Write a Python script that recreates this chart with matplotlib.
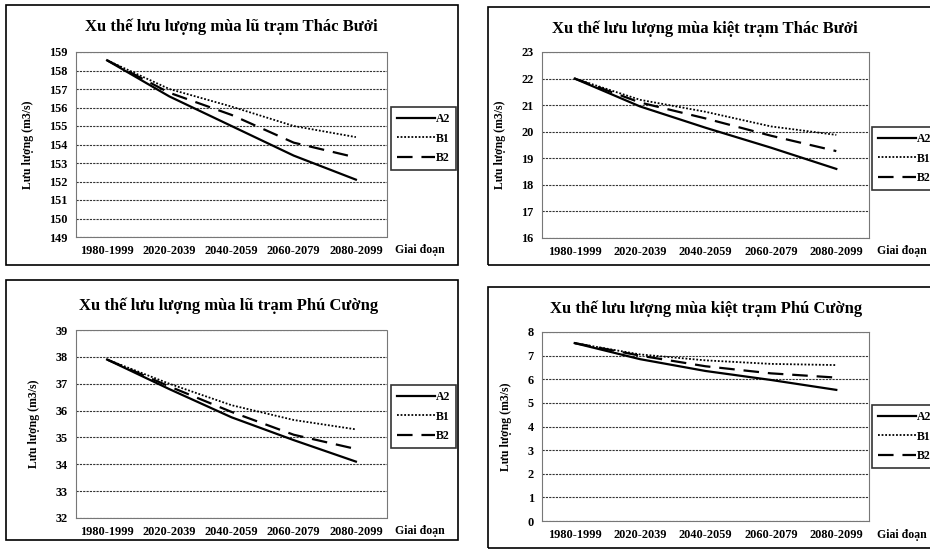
import matplotlib
matplotlib.use("Agg")
import matplotlib.pyplot as plt
from matplotlib.patches import Rectangle

plt.rcParams['font.family'] = ['Liberation Serif', 'DejaVu Serif']
plt.rcParams['font.weight'] = 'bold'

periods = ["1980-1999", "2020-2039", "2040-2059", "2060-2079", "2080-2099"]
series_names = ["A2", "B1", "B2"]

titles = [
    "Xu thế lưu lượng mùa lũ trạm Thác Bưởi",
    "Xu thế lưu lượng mùa kiệt trạm Thác Bưởi",
    "Xu thế lưu lượng mùa lũ trạm Phú Cường",
    "Xu thế lưu lượng mùa kiệt trạm Phú Cường",
]

# flood season, Thac Buoi
tb_flood_A2 = [158.55, 156.6, 155.0, 153.4, 152.1]
tb_flood_B1 = [158.55, 157.0, 156.05, 155.0, 154.4]
tb_flood_B2 = [158.55, 156.8, 155.6, 154.1, 153.3]
# dry season, Thac Buoi
tb_dry_A2 = [22.0, 20.95, 20.15, 19.4, 18.6]
tb_dry_B1 = [22.0, 21.2, 20.75, 20.2, 19.88]
tb_dry_B2 = [22.0, 21.1, 20.5, 19.85, 19.27]
# flood season, Phu Cuong
pc_flood_A2 = [37.9, 36.8, 35.75, 34.9, 34.1]
pc_flood_B1 = [37.9, 37.0, 36.2, 35.65, 35.3]
pc_flood_B2 = [37.9, 36.9, 35.95, 35.1, 34.57]
# dry season, Phu Cuong
pc_dry_A2 = [7.53, 6.85, 6.35, 5.97, 5.55]
pc_dry_B1 = [7.53, 7.05, 6.8, 6.65, 6.6]
pc_dry_B2 = [7.53, 7.0, 6.55, 6.25, 6.07]

ylims = [(149, 159), (16, 23), (32, 39), (0, 8)]

panel_data = [
    [tb_flood_A2, tb_flood_B1, tb_flood_B2],
    [tb_dry_A2, tb_dry_B1, tb_dry_B2],
    [pc_flood_A2, pc_flood_B1, pc_flood_B2],
    [pc_dry_A2, pc_dry_B1, pc_dry_B2],
]

W, H = 930, 550
fig = plt.figure(figsize=(W / 100, H / 100), dpi=100)
fig.patch.set_facecolor("white")


def rect(x0, y0, x1, y1):
    return [x0 / W, 1 - y1 / H, (x1 - x0) / W, (y1 - y0) / H]


layouts = [
    dict(box=(6, 5, 458, 265), plot=(76, 52, 387, 237), leg=(391, 107), title_y=27, title_x=231, gd=(395, 250)),
    dict(box=(488, 7, 940, 265), plot=(542, 52, 869, 238), leg=(872, 127), title_y=29, title_x=705, gd=(877, 251)),
    dict(box=(6, 280, 458, 540), plot=(76, 330, 387, 518), leg=(391, 385), title_y=306, title_x=229, gd=(395, 531)),
    dict(box=(488, 287, 940, 548), plot=(542, 332, 869, 521), leg=(872, 405), title_y=309, title_x=706, gd=(877, 535)),
]

styles = [
    dict(color="black", lw=1.6, linestyle="-"),
    dict(color="black", lw=1.3, linestyle=(0, (1, 1))),
    dict(color="black", lw=1.6, linestyle=(0, (7, 4))),
]

x = list(range(len(periods)))

for i, lay in enumerate(layouts):
    bx0, by0, bx1, by1 = lay["box"]
    fig.patches.append(Rectangle((bx0 / W, 1 - by1 / H), (bx1 - bx0) / W, (by1 - by0) / H,
                                 transform=fig.transFigure, fill=False, edgecolor="black", lw=1.2))
    px0, py0, px1, py1 = lay["plot"]
    ax = fig.add_axes(rect(px0, py0, px1, py1))
    lo, hi = ylims[i]
    handles = []
    for s, vals in enumerate(panel_data[i]):
        h, = ax.plot(x, vals, label=series_names[s], **styles[s])
        handles.append(h)
    ax.set_xlim(-0.5, len(periods) - 0.5)
    ax.set_ylim(lo, hi)
    ax.set_yticks(range(lo, hi + 1))
    ax.set_xticks(x)
    ax.set_xticklabels(periods, fontsize=8.8, fontweight="bold")
    ax.tick_params(axis="both", length=0, labelsize=8.8, pad=6)
    for lab in ax.get_yticklabels():
        lab.set_fontweight("bold")
    ax.yaxis.grid(True, color="#333333", linestyle=(0, (2, 1)), lw=0.8)
    ax.set_axisbelow(True)
    for sp in ax.spines.values():
        sp.set_color("#777777")
        sp.set_linestyle((0, (1, 1)))
        sp.set_linewidth(0.8)
    ax.set_ylabel("Lưu lượng (m3/s)", fontsize=8.5, fontweight="bold", labelpad=11)
    gx, gy = lay["gd"]
    fig.text(gx / W, 1 - gy / H, "Giai đoạn", ha="left", va="center",
             fontsize=8.5, fontweight="bold")
    fig.text(lay["title_x"] / W, 1 - lay["title_y"] / H, titles[i], ha="center", va="center",
             fontsize=12, fontweight="bold")
    lx, ly = lay["leg"]
    leg = fig.legend(handles=handles, loc="upper left",
                     bbox_to_anchor=(lx / W, 1 - ly / H), fontsize=8.5,
                     frameon=True, fancybox=False, edgecolor="black",
                     handlelength=3.2, handletextpad=0.1, borderpad=0.5,
                     labelspacing=0.65, borderaxespad=0)
    leg.get_frame().set_linewidth(1.2)
    for t in leg.get_texts():
        t.set_fontweight("bold")

fig.savefig("out.png", dpi=100, facecolor="white")
